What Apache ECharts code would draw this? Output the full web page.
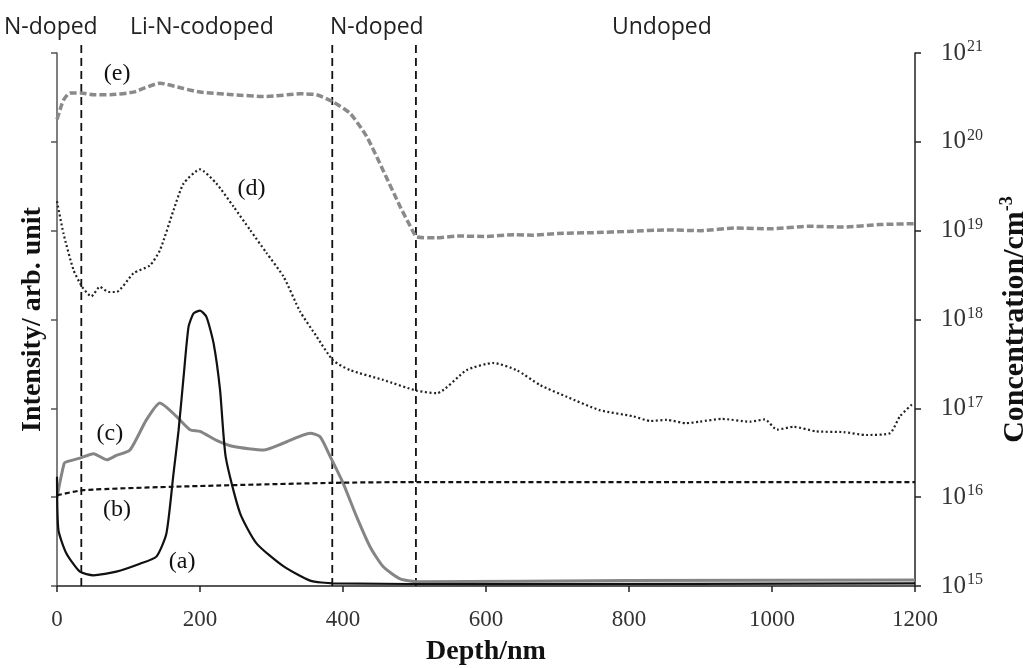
<!DOCTYPE html>
<html>
<head>
<meta charset="utf-8">
<script src="https://cdn.jsdelivr.net/npm/echarts@6/dist/echarts.min.js"></script>
<style>
html,body{margin:0;padding:0;background:#fff;}
#chart{width:1023px;height:668px;}
</style>
</head>
<body>
<div id="chart"></div>
<script>
// ---- data (depth in nm, concentration in cm^-3) ----
const xTicks = [0, 200, 400, 600, 800, 1000, 1200];
const regionLines = [34, 385, 502];
const regionLabels = ['N-doped', 'Li-N-codoped', 'N-doped', 'Undoped'];

const eDepth = [0, 5, 9, 18, 34, 51, 74, 107, 144, 177, 200, 246, 293, 340, 363, 386, 410, 433, 456, 480, 498, 503, 530, 560, 600, 640, 666, 700, 750, 800, 853, 900, 950, 1000, 1050, 1100, 1150, 1200];
const eConc = [1.78e20, 2.4e20, 2.95e20, 3.55e20, 3.55e20, 3.39e20, 3.39e20, 3.63e20, 4.57e20, 3.98e20, 3.63e20, 3.39e20, 3.24e20, 3.47e20, 3.39e20, 2.82e20, 2.09e20, 1.15e20, 4.79e19, 1.86e19, 9.77e18, 8.51e18, 8.3e18, 8.7e18, 8.6e18, 9.0e18, 8.9e18, 9.3e18, 9.5e18, 9.8e18, 1.02e19, 1.0e19, 1.07e19, 1.05e19, 1.12e19, 1.1e19, 1.17e19, 1.2e19];

const dDepth = [0, 9, 23, 35, 48, 60, 72, 83, 107, 130, 144, 163, 177, 200, 223, 247, 270, 293, 317, 340, 363, 386, 410, 456, 503, 531, 573, 610, 643, 676, 713, 759, 806, 830, 853, 880, 899, 930, 969, 990, 1007, 1030, 1062, 1100, 1132, 1165, 1179, 1198];
const dConc = [2.14e19, 9.33e18, 3.63e18, 2.34e18, 1.82e18, 2.34e18, 2.04e18, 2.04e18, 3.31e18, 4.07e18, 6.03e18, 1.70e19, 3.39e19, 4.90e19, 3.39e19, 1.86e19, 1.02e19, 5.62e18, 3.02e18, 1.23e18, 6.46e17, 3.47e17, 2.69e17, 2.09e17, 1.58e17, 1.48e17, 2.69e17, 3.24e17, 2.69e17, 1.82e17, 1.35e17, 9.55e16, 8.13e16, 7.2e16, 7.41e16, 6.8e16, 7.08e16, 7.6e16, 7.08e16, 7.5e16, 5.75e16, 6.2e16, 5.50e16, 5.4e16, 5.01e16, 5.25e16, 8.13e16, 1.15e17];

const cDepth = [0, 10, 14, 32, 51, 70, 83, 102, 125, 144, 167, 186, 200, 223, 247, 289, 317, 354, 368, 382, 400, 419, 438, 456, 480, 503, 800, 1200];
const cConc = [1.0e16, 2.4e16, 2.51e16, 2.75e16, 3.09e16, 2.63e16, 2.95e16, 3.39e16, 7.41e16, 1.15e17, 8.13e16, 5.75e16, 5.50e16, 4.37e16, 3.72e16, 3.39e16, 4.07e16, 5.25e16, 4.79e16, 2.88e16, 1.45e16, 6.03e15, 2.75e15, 1.66e15, 1.20e15, 1.12e15, 1.15e15, 1.17e15];

const aDepth = [0, 2, 13, 32, 51, 83, 116, 139, 153, 163, 170, 177, 184, 191, 200, 209, 219, 228, 236, 256, 279, 317, 354, 386, 600, 1200];
const aConc = [1.70e16, 4.27e15, 2.34e15, 1.45e15, 1.32e15, 1.45e15, 1.78e15, 2.14e15, 3.89e15, 1.86e16, 5.6e16, 2.24e17, 8.3e17, 1.17e18, 1.26e18, 1.07e18, 5.4e17, 1.62e17, 2.82e16, 6.61e15, 3.02e15, 1.66e15, 1.15e15, 1.07e15, 1.05e15, 1.07e15];

const bDepth = [0, 37, 177, 386, 503, 800, 1200];
const bConc = [1.05e16, 1.20e16, 1.32e16, 1.45e16, 1.48e16, 1.48e16, 1.48e16];

// curve tags: [label, depth, concentration]
const curveTags = [['(e)', 84, 5.9e20], ['(d)', 272, 3.0e19], ['(c)', 74, 5.2e16], ['(b)', 84, 7.2e15], ['(a)', 175, 1.86e15]];

const yMin = 1e15, yMax = 1e21, lineTop = 1.33e21;

function pairs(xs, ys) { return xs.map((x, i) => [x, ys[i]]); }

const serif = '"Liberation Serif", "Times New Roman", serif';
const sans = '"Open Sans", "Noto Sans", sans-serif';

const chart = echarts.init(document.getElementById('chart'), null, {renderer: 'canvas'});

const regionSeries = regionLines.map(x => ({
  type: 'line', yAxisIndex: 1, data: [[x, yMin], [x, lineTop]], showSymbol: false,
  clip: false, silent: true, z: 1,
  lineStyle: {color: '#111', width: 1.8, type: [8, 5]}
}));

const option = {
  animation: false,
  backgroundColor: '#ffffff',
  grid: {left: 57, right: 108, top: 53, bottom: 82, containLabel: false, outerBoundsMode: 'none'},
  xAxis: {
    type: 'value', min: 0, max: 1200, interval: 200,
    name: 'Depth/nm', nameLocation: 'middle', nameGap: 52,
    nameTextStyle: {fontFamily: serif, fontWeight: 'bold', fontSize: 28, color: '#111'},
    axisLine: {show: true, onZero: false, lineStyle: {color: '#222', width: 1.5}},
    axisTick: {show: true, length: 6, lineStyle: {color: '#222', width: 1.5}},
    axisLabel: {fontFamily: serif, fontSize: 23, color: '#333', margin: 22,
      formatter: function (v) { return String(v); }},
    splitLine: {show: false}
  },
  yAxis: [
    {
      type: 'log', logBase: 10, min: yMin, max: yMax, interval: 1, position: 'left',
      name: 'Intensity/ arb. unit', nameLocation: 'middle', nameGap: 10, nameRotate: 90,
      nameTextStyle: {fontFamily: serif, fontWeight: 'bold', fontSize: 28, color: '#111'},
      axisLine: {show: true, lineStyle: {color: '#555', width: 1.5}},
      axisTick: {show: true, length: 6, lineStyle: {color: '#555', width: 1.5}},
      axisLabel: {show: false},
      splitLine: {show: false}
    },
    {
      type: 'log', logBase: 10, min: yMin, max: yMax, interval: 1, position: 'right',
      name: 'Concentration/cm{s|-3}', nameLocation: 'middle', nameGap: 83, nameRotate: 90,
      nameTextStyle: {fontFamily: serif, fontWeight: 'bold', fontSize: 30, color: '#111',
        rich: {s: {fontFamily: serif, fontWeight: 'bold', fontSize: 18, verticalAlign: 'top', lineHeight: 34}}},
      axisLine: {show: true, lineStyle: {color: '#222', width: 1.5}},
      axisTick: {show: true, length: 6, lineStyle: {color: '#222', width: 1.5}},
      axisLabel: {
        margin: 26, color: '#333',
        formatter: function (v) { return '{b|10}{s|' + Math.round(Math.log10(v)) + '}'; },
        rich: {
          b: {fontFamily: serif, fontSize: 25, color: '#333', lineHeight: 28, verticalAlign: 'middle'},
          s: {fontFamily: serif, fontSize: 16, color: '#333', lineHeight: 28, verticalAlign: 'top', padding: [0, 0, 0, 1]}
        }
      },
      splitLine: {show: false}
    }
  ],
  series: regionSeries.concat([
    {
      name: 'e', type: 'line', yAxisIndex: 1, data: pairs(eDepth, eConc), showSymbol: false,
      smooth: 0.2, z: 3,
      lineStyle: {color: '#8a8a8a', width: 3.5, type: [7, 3]},
      markPoint: {
        symbol: 'circle', symbolSize: 0, silent: true,
        label: {show: true, position: 'inside', fontFamily: serif, fontSize: 24, color: '#111', formatter: '{b}'},
        data: curveTags.map(t => ({name: t[0], coord: [t[1], t[2]]}))
      }
    },
    {
      name: 'd', type: 'line', yAxisIndex: 1, data: pairs(dDepth, dConc), showSymbol: false,
      smooth: 0.2, z: 3,
      lineStyle: {color: '#222', width: 2.2, type: [2, 2.5]}
    },
    {
      name: 'c', type: 'line', yAxisIndex: 1, data: pairs(cDepth, cConc), showSymbol: false,
      smooth: 0.2, z: 3,
      lineStyle: {color: '#858585', width: 3}
    },
    {
      name: 'a', type: 'line', yAxisIndex: 1, data: pairs(aDepth, aConc), showSymbol: false,
      smooth: 0.2, z: 4,
      lineStyle: {color: '#111', width: 2.2}
    },
    {
      name: 'b', type: 'line', yAxisIndex: 1, data: pairs(bDepth, bConc), showSymbol: false,
      smooth: 0.2, z: 3,
      lineStyle: {color: '#111', width: 2.2, type: [5, 3]}
    }
  ]),
  graphic: [
    {type: 'text', left: 4, top: 16, style: {text: regionLabels[0], font: '23px ' + sans, fill: '#222'}},
    {type: 'text', left: 130, top: 16, style: {text: regionLabels[1], font: '23px ' + sans, fill: '#222'}},
    {type: 'text', left: 330, top: 16, style: {text: regionLabels[2], font: '23px ' + sans, fill: '#222'}},
    {type: 'text', left: 612, top: 16, style: {text: regionLabels[3], font: '23px ' + sans, fill: '#222'}}
  ]
};
chart.setOption(option);
</script>
</body>
</html>
